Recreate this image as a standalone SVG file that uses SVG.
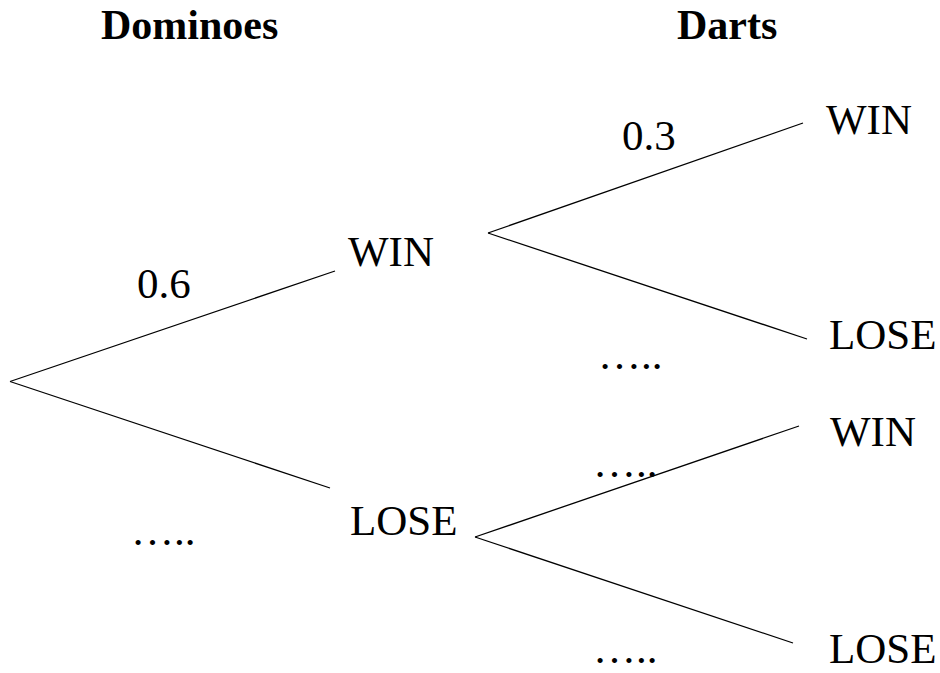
<svg xmlns="http://www.w3.org/2000/svg" width="940" height="673" viewBox="0 0 940 673">
<style>
text { font-family: "Liberation Serif", "Times New Roman", serif; font-size: 43px; fill: #000; }
.h { font-weight: bold; font-size: 42px; }
.c line { stroke: #000; stroke-width: 1.3; }
</style>
<rect width="940" height="673" fill="#fff"/>
<g id="headers">
<text class="h" x="101" y="39">Dominoes</text>
<text class="h" x="677" y="39">Darts</text>
</g>
<g class="c" id="connectors">
<line x1="10" y1="381.5" x2="335" y2="271"/>
<line x1="10" y1="381.5" x2="330" y2="488"/>
<line x1="488" y1="233" x2="803" y2="123"/>
<line x1="488" y1="233" x2="807" y2="339"/>
<line x1="475" y1="537" x2="799" y2="426"/>
<line x1="475" y1="537" x2="793" y2="643"/>
</g>
<g id="dom-win"><text x="348" y="266">WIN</text></g>
<g id="dom-lose"><text x="350" y="535">LOSE</text></g>
<g id="darts-win-1"><text x="826" y="134">WIN</text></g>
<g id="darts-lose-1"><text x="829" y="349">LOSE</text></g>
<g id="darts-win-2"><text x="830" y="446">WIN</text></g>
<g id="darts-lose-2"><text x="829" y="663">LOSE</text></g>
<g id="labels">
<text x="137" y="298">0.6</text>
<text x="622" y="150">0.3</text>
<text x="598" y="369">…..</text>
<text x="593" y="477">…..</text>
<text x="131" y="545">…..</text>
<text x="593" y="663">…..</text>
</g>
</svg>
